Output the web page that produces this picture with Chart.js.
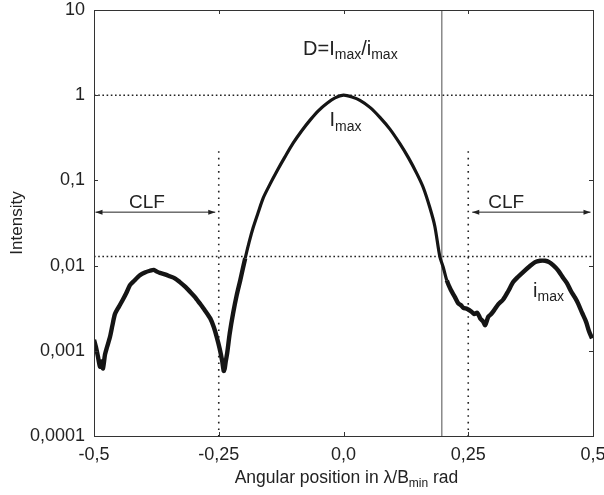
<!DOCTYPE html>
<html lang="en">
<head>
    <meta charset="UTF-8">
    <title>Intensity vs angular position</title>
    <script src="https://cdn.jsdelivr.net/npm/chart.js"></script>
    <style>
        html, body { margin: 0; padding: 0; background: #fff; }
        .chart-container { position: relative; width: 604px; height: 495px; }
    </style>
</head>
<body>
    <div class="chart-container"><canvas id="chart" width="604" height="495"></canvas></div>

    <script>
        const angleX = [
            -0.500, -0.496, -0.492, -0.488, -0.485, -0.482, -0.478, -0.474, -0.468, -0.463,
            -0.458, -0.450, -0.442, -0.435, -0.428, -0.420, -0.408, -0.398, -0.388, -0.380,
            -0.374, -0.368, -0.358, -0.348, -0.338, -0.328, -0.318, -0.307, -0.298, -0.288,
            -0.278, -0.267, -0.260, -0.254, -0.248, -0.243, -0.240, -0.238, -0.236, -0.233,
            -0.228, -0.221, -0.214, -0.207, -0.197, -0.189, -0.181, -0.171, -0.161, -0.147,
            -0.133, -0.117, -0.101, -0.084, -0.067, -0.050, -0.033, -0.017, 0.000, 0.017,
            0.033, 0.053, 0.073, 0.093, 0.113, 0.130, 0.147, 0.160, 0.173, 0.183,
            0.193, 0.200, 0.207, 0.215, 0.223, 0.230, 0.236, 0.240, 0.248, 0.256,
            0.262, 0.268, 0.274, 0.280, 0.284, 0.290, 0.296, 0.302, 0.310, 0.320,
            0.330, 0.340, 0.350, 0.360, 0.372, 0.384, 0.394, 0.404, 0.412, 0.420,
            0.430, 0.440, 0.448, 0.456, 0.464, 0.470, 0.478, 0.486, 0.492, 0.498
        ];
        const intensity = [
            0.00135, 0.00110, 0.00085, 0.00065, 0.00075, 0.00062, 0.00090, 0.00110, 0.00145, 0.0020,
            0.0027, 0.0033, 0.0040, 0.0048, 0.0059, 0.0066, 0.0077, 0.0083, 0.0087, 0.0089,
            0.0085, 0.0082, 0.0079, 0.0075, 0.0071, 0.0064, 0.0057, 0.0049, 0.0043, 0.0036,
            0.0030, 0.0024, 0.0019, 0.00145, 0.00105, 0.00075, 0.00058, 0.00062, 0.00075, 0.00095,
            0.0016, 0.0028, 0.0045, 0.0067, 0.0122, 0.019, 0.028, 0.042, 0.062, 0.091,
            0.130, 0.19, 0.273, 0.38, 0.51, 0.66, 0.805, 0.93, 1.0, 0.95,
            0.87, 0.72, 0.55, 0.40, 0.27, 0.185, 0.12, 0.082, 0.048, 0.029,
            0.0128, 0.0095, 0.0067, 0.0052, 0.0043, 0.0036, 0.0034, 0.0032, 0.0031, 0.0029,
            0.0027, 0.0028, 0.0024, 0.0022, 0.0020, 0.0025, 0.0027, 0.0030, 0.0035, 0.0040,
            0.0050, 0.0064, 0.0074, 0.0084, 0.0097, 0.0110, 0.0114, 0.0114, 0.0110, 0.0101,
            0.0088, 0.0072, 0.0062, 0.0050, 0.0042, 0.0036, 0.0028, 0.0022, 0.0017, 0.00140
        ];

        const xTicks = [-0.5, -0.25, 0, 0.25, 0.5];
        const yTicks = [0.0001, 0.001, 0.01, 0.1, 1, 10];
        const levelLines = [1, 0.0128];      // I_max and i_max levels
        const clfEdges = [-0.25, 0.25];      // CLF limits
        const clfTop = 0.22;
        const crossingX = 0.197;

        const font = '"Liberation Sans", Arial, sans-serif';
        const ink = '#222';

        function fmt(v) {
            if (v === 0) return '0,0';
            return String(v).replace('.', ',');
        }

        const datasets = [{
            data: angleX.map((x, i) => ({ x: x, y: intensity[i] })),
            borderColor: '#151515',
            borderWidth: 3.4,
            pointRadius: 0,
            tension: 0.25,
            // noisy side lobes look heavier than the main lobe
            segment: {
                borderWidth: c => Math.abs(c.p0.parsed.x) > 0.2 ? 4.4 : 3.2
            }
        }];
        levelLines.forEach(v => datasets.push({
            data: [{ x: -0.5, y: v }, { x: 0.5, y: v }],
            borderColor: ink, borderWidth: 1.6, borderDash: [1.6, 2.6], pointRadius: 0
        }));
        clfEdges.forEach(x => datasets.push({
            data: [{ x: x, y: clfTop }, { x: x, y: 0.0001 }],
            borderColor: ink, borderWidth: 1.6, borderDash: [1.6, 5], pointRadius: 0
        }));
        datasets.push({
            data: [{ x: crossingX, y: 10 }, { x: crossingX, y: 0.0001 }],
            borderColor: '#777', borderWidth: 1.3, pointRadius: 0
        });

        // text with subscript parts
        function subText(ctx, parts, x, y, size) {
            parts.forEach(p => {
                ctx.font = (p.sub ? Math.round(size * 0.68) : size) + 'px ' + font;
                ctx.fillText(p.t, x, y + (p.sub ? size * 0.22 : 0));
                x += ctx.measureText(p.t).width;
            });
        }
        function partsWidth(ctx, parts, size) {
            let w = 0;
            parts.forEach(p => {
                ctx.font = (p.sub ? Math.round(size * 0.68) : size) + 'px ' + font;
                w += ctx.measureText(p.t).width;
            });
            return w;
        }
        function arrow(ctx, x1, x2, y) {
            ctx.beginPath();
            ctx.moveTo(x1, y); ctx.lineTo(x2, y); ctx.stroke();
            [[x1, 1], [x2, -1]].forEach(([x, d]) => {
                ctx.beginPath();
                ctx.moveTo(x, y);
                ctx.lineTo(x + 7 * d, y - 2.5);
                ctx.lineTo(x + 7 * d, y + 2.5);
                ctx.closePath();
                ctx.fill();
            });
        }

        const decorations = {
            id: 'decorations',
            afterDraw(chart) {
                const ctx = chart.ctx;
                const a = chart.chartArea;
                const sx = chart.scales.x, sy = chart.scales.y;
                ctx.save();
                ctx.strokeStyle = '#333';
                ctx.lineWidth = 1;
                ctx.strokeRect(a.left + 0.5, a.top + 0.5, a.right - a.left, a.bottom - a.top);
                // inward ticks
                xTicks.forEach(v => {
                    const px = Math.round(sx.getPixelForValue(v)) + 0.5;
                    ctx.beginPath();
                    ctx.moveTo(px, a.bottom); ctx.lineTo(px, a.bottom - 4);
                    ctx.moveTo(px, a.top); ctx.lineTo(px, a.top + 4);
                    ctx.stroke();
                });
                yTicks.forEach(v => {
                    const py = Math.round(sy.getPixelForValue(v)) + 0.5;
                    ctx.beginPath();
                    ctx.moveTo(a.left, py); ctx.lineTo(a.left + 4, py);
                    ctx.moveTo(a.right, py); ctx.lineTo(a.right - 4, py);
                    ctx.stroke();
                });

                ctx.fillStyle = ink;
                ctx.strokeStyle = ink;
                ctx.textBaseline = 'alphabetic';
                ctx.textAlign = 'left';

                // CLF arrows
                const yArrow = sy.getPixelForValue(0.0424);
                arrow(ctx, sx.getPixelForValue(-0.497), sx.getPixelForValue(-0.257), yArrow);
                arrow(ctx, sx.getPixelForValue(0.258), sx.getPixelForValue(0.495), yArrow);
                ctx.font = '19px ' + font;
                ctx.textAlign = 'center';
                ctx.fillText('CLF', sx.getPixelForValue(-0.394), sy.getPixelForValue(0.047));
                ctx.fillText('CLF', sx.getPixelForValue(0.326), sy.getPixelForValue(0.047));
                ctx.textAlign = 'left';

                // D = I_max / i_max
                subText(ctx, [{ t: 'D=I' }, { t: 'max', sub: true }, { t: '/i' }, { t: 'max', sub: true }],
                    sx.getPixelForValue(-0.081), sy.getPixelForValue(3.0), 20);
                subText(ctx, [{ t: 'I' }, { t: 'max', sub: true }],
                    sx.getPixelForValue(-0.028), sy.getPixelForValue(0.43), 20);
                subText(ctx, [{ t: 'i' }, { t: 'max', sub: true }],
                    sx.getPixelForValue(0.38), sy.getPixelForValue(0.0043), 20);

                // x axis title
                const title = [{ t: 'Angular position in \u03bb/B' }, { t: 'min', sub: true }, { t: ' rad' }];
                const w = partsWidth(ctx, title, 17.5);
                subText(ctx, title, (a.left + a.right) / 2 - w / 2 + 3, 483, 17.5);
                ctx.restore();
            }
        };

        new Chart(document.getElementById('chart').getContext('2d'), {
            type: 'line',
            data: { datasets: datasets },
            options: {
                responsive: false,
                maintainAspectRatio: false,
                animation: false,
                layout: { padding: { top: 10, right: 11, left: 0, bottom: 0 } },
                plugins: { legend: { display: false }, tooltip: { enabled: false } },
                scales: {
                    x: {
                        type: 'linear', min: -0.5, max: 0.5,
                        afterBuildTicks: s => { s.ticks = xTicks.map(v => ({ value: v })); },
                        afterFit: s => { s.height = 59; s.paddingLeft = 0; s.paddingRight = 0; },
                        grid: { display: false, drawTicks: false },
                        border: { display: false },
                        ticks: {
                            padding: 8, color: ink, maxRotation: 0, autoSkip: false,
                            font: { family: font, size: 18 },
                            callback: v => fmt(v)
                        }
                    },
                    y: {
                        type: 'logarithmic', min: 0.0001, max: 10,
                        afterBuildTicks: s => { s.ticks = yTicks.map(v => ({ value: v })); },
                        afterFit: s => { s.width = 94; s.paddingTop = 0; s.paddingBottom = 0; },
                        grid: { display: false, drawTicks: false },
                        border: { display: false },
                        title: {
                            display: true, text: 'Intensity', color: ink,
                            font: { family: font, size: 17 }, padding: { top: 7, bottom: 0 }
                        },
                        ticks: {
                            padding: 9, color: ink, autoSkip: false,
                            font: { family: font, size: 18 },
                            callback: v => fmt(v)
                        }
                    }
                }
            },
            plugins: [decorations]
        });
    </script>
</body>
</html>
